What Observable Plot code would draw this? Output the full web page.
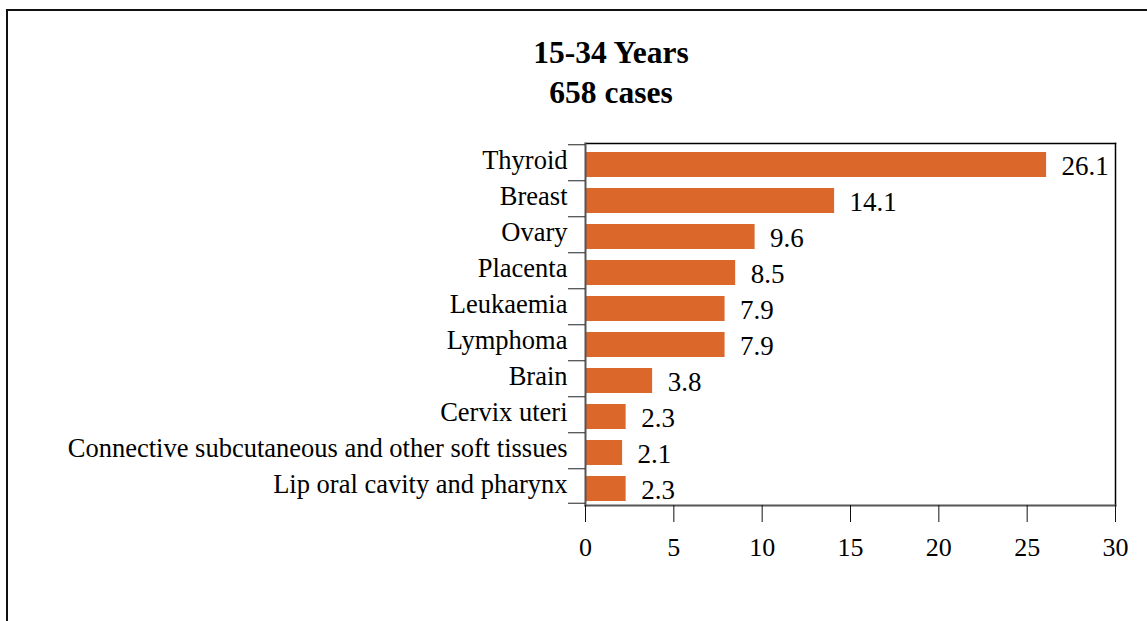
<!DOCTYPE html>
<html>
<head>
<meta charset="utf-8">
<script src="https://cdn.jsdelivr.net/npm/d3@7"></script>
<script src="https://cdn.jsdelivr.net/npm/@observablehq/plot@0.6"></script>
<style>
  html, body { margin: 0; padding: 0; background: #fff; overflow: hidden; width: 1147px; height: 621px; }
  #border { position: absolute; left: 6px; top: 9px; width: 1400px; height: 900px; border: 2px solid #111; box-sizing: border-box; }
  #title { position: absolute; left: 0; top: 33px; width: 1222px; text-align: center; font-family: "Liberation Serif", serif; font-weight: bold; font-size: 31.5px; line-height: 40px; color: #000; }
  #chart { position: absolute; left: 0; top: 0; }
</style>
</head>
<body>
<div id="border"></div>
<div id="title">15-34 Years<br>658 cases</div>
<div id="chart"></div>
<script>
const categories = ["Thyroid", "Breast", "Ovary", "Placenta", "Leukaemia", "Lymphoma", "Brain", "Cervix uteri", "Connective subcutaneous and other soft tissues", "Lip oral cavity and pharynx"];
const values = [26.1, 14.1, 9.6, 8.5, 7.9, 7.9, 3.8, 2.3, 2.1, 2.3];
const xTicks = [0, 5, 10, 15, 20, 25, 30];

const data = categories.map((c, i) => ({cat: c, value: values[i]}));
const step = 36.44;

const chart = Plot.plot({
  width: 1147,
  height: 621,
  marginLeft: 585,
  marginRight: 32,
  marginTop: 143,
  marginBottom: 116,
  x: {domain: [0, 30]},
  y: {domain: categories, range: [144.3, 508.7], paddingInner: 0.3, paddingOuter: 0.15},
  style: {fontFamily: "Liberation Serif, serif", fontSize: "26px", color: "#000", background: "transparent", overflow: "visible"},
  marks: [
    Plot.barX(data, {x: "value", y: "cat", fill: "#dc672b"}),
    Plot.text(data, {x: "value", y: "cat", text: d => d.value.toFixed(1), textAnchor: "start", dx: 15, dy: 1, fontSize: 27, fill: "#000"}),
    Plot.frame({anchor: "top", stroke: "#000", strokeWidth: 1.5}),
    Plot.frame({anchor: "right", stroke: "#000", strokeWidth: 1.5}),
    Plot.frame({anchor: "left", stroke: "#555", strokeWidth: 2}),
    Plot.frame({anchor: "bottom", stroke: "#555", strokeWidth: 2}),
    Plot.axisX(xTicks, {tickSize: 17, tickPadding: 15, stroke: "#111", fontSize: 26, label: null}),
    Plot.axisY({tickSize: 0, tickPadding: 18, dy: -4.5, fontSize: 26.5, label: null}),
    Plot.axisY({tickSize: 17, tickFormat: () => "", dy: -step / 2 - 2, stroke: "#222", label: null}),
    Plot.axisY([categories[categories.length - 1]], {tickSize: 17, tickFormat: () => "", dy: step / 2 - 4, stroke: "#222", label: null})
  ]
});
document.getElementById("chart").appendChild(chart);
</script>
</body>
</html>
